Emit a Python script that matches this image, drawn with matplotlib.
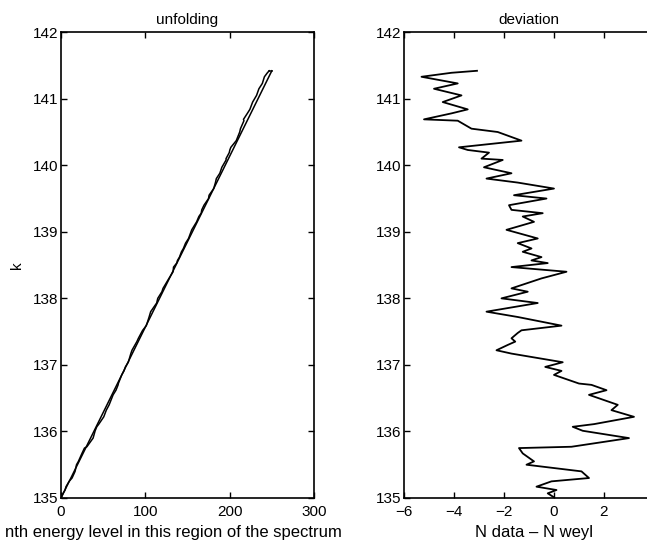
import numpy as np
import matplotlib
matplotlib.use("Agg")
import matplotlib.pyplot as plt

plt.rcParams['font.family'] = ['Liberation Sans', 'DejaVu Sans']
plt.rcParams['font.size'] = 11

# deviation curve (top to bottom)
k_dev = [141.42, 141.39, 141.33, 141.23, 141.15, 141.05, 140.95, 140.84, 140.78, 140.69,
         140.67, 140.55, 140.50, 140.37, 140.27, 140.23, 140.19, 140.10, 140.08, 139.97,
         139.88, 139.80, 139.74, 139.65, 139.55, 139.50, 139.40, 139.33, 139.28, 139.23,
         139.15, 139.03, 138.90, 138.83, 138.75, 138.70, 138.62, 138.57, 138.53, 138.47,
         138.40, 138.30, 138.15, 138.10, 138.00, 137.93, 137.80, 137.72, 137.59, 137.52,
         137.48, 137.40, 137.35, 137.30, 137.22, 137.17, 137.04, 136.97, 136.91, 136.85,
         136.72, 136.70, 136.62, 136.55, 136.40, 136.32, 136.22, 136.11, 136.07, 136.01,
         135.90, 135.77, 135.75, 135.67, 135.55, 135.50, 135.40, 135.30, 135.25, 135.17,
         135.12, 135.07, 135.01]
dev = [-3.08, -4.1, -5.3, -3.85, -4.8, -3.7, -4.45, -3.45, -4.1, -5.2,
       -3.85, -3.3, -2.25, -1.3, -3.8, -3.45, -2.6, -2.9, -2.05, -2.8,
       -1.7, -2.7, -1.45, 0.0, -1.6, -0.3, -1.8, -1.7, -0.45, -1.25,
       -0.8, -1.9, -0.65, -1.45, -0.9, -1.25, -0.5, -0.9, -0.25, -1.7,
       0.5, -0.5, -1.7, -1.05, -2.1, -0.65, -2.7, -1.45, 0.3, -1.3,
       -1.45, -1.7, -1.55, -1.85, -2.3, -1.7, 0.35, -0.35, 0.3, 0.0,
       1.0, 1.5, 2.1, 1.4, 2.55, 2.3, 3.2, 1.6, 0.75, 1.15,
       3.0, 0.7, -1.4, -1.25, -0.8, -1.1, 1.1, 1.4, -0.1, -0.7,
       0.1, -0.25, 0.0]

# weyl line end points (left panel)
k_weyl = [135.0, 141.42]
n_weyl = [0.0, 250.0]

k_arr = np.array(k_dev)
nw = np.interp(k_arr, k_weyl, n_weyl)
nd = nw + np.array(dev)

fig = plt.figure(figsize=(6.47, 5.41), dpi=100)
ax1 = fig.add_axes([0.0943, 0.0795, 0.391, 0.861])
ax2 = fig.add_axes([0.6244, 0.0795, 0.3864, 0.861])

ax1.plot(n_weyl, k_weyl, color='black', lw=1.1)
ax1.plot(nd, k_arr, color='black', lw=1.1)
ax1.plot([nd[0], n_weyl[1]], [k_arr[0], k_weyl[1]], color='black', lw=1.1)
ax1.set_xlim(0, 300)
ax1.set_ylim(135, 142)
ax1.set_xticks([0, 100, 200, 300])
ax1.set_title('unfolding', fontsize=11, pad=6)
ax1.set_xlabel('nth energy level in this region of the spectrum', fontsize=12)
ax1.xaxis.set_label_coords(0.445, -0.058)
ax1.set_ylabel('k', labelpad=6)

ax2.plot(dev, k_dev, color='black', lw=1.3)
ax2.set_xlim(-6, 4)
ax2.set_ylim(135, 142)
ax2.set_xticks([-6, -4, -2, 0, 2])
ax2.set_title('deviation', fontsize=11, pad=6)
ax2.set_xlabel('N data \u2013 N weyl', fontsize=12)
ax2.xaxis.set_label_coords(0.52, -0.058)

for ax in (ax1, ax2):
    ax.set_yticks(range(135, 143))
    ax.tick_params(direction='in', top=True, right=True, length=4, width=1, pad=2)
    ax.tick_params(axis='x', pad=5)
    for s in ax.spines.values():
        s.set_linewidth(1.2)

fig.savefig('out.png', dpi=100)
